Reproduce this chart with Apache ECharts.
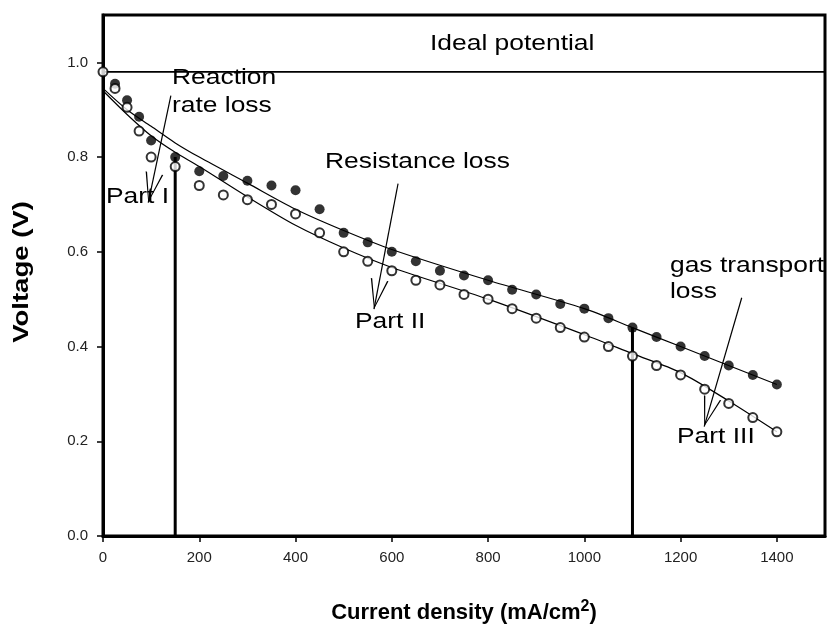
<!DOCTYPE html>
<html>
<head>
<meta charset="utf-8">
<script src="https://cdn.jsdelivr.net/npm/echarts@6/dist/echarts.min.js"></script>
<style>html,body{margin:0;padding:0;background:#fff}#c{width:827px;height:635px}</style>
</head>
<body>
<div id="c"></div>
<script>
// ---- data ----
var upperX = [25, 50, 75, 100, 150, 200, 250, 300, 350, 400, 450, 500, 550, 600, 650, 700, 750, 800, 850, 900, 950, 1000, 1050, 1100, 1150, 1200, 1250, 1300, 1350, 1400];
var upperV = [0.955, 0.92, 0.885, 0.835, 0.80, 0.77, 0.76, 0.75, 0.74, 0.73, 0.69, 0.64, 0.62, 0.60, 0.58, 0.56, 0.55, 0.54, 0.52, 0.51, 0.49, 0.48, 0.46, 0.44, 0.42, 0.40, 0.38, 0.36, 0.34, 0.32];
var lowerX = [0, 25, 50, 75, 100, 150, 200, 250, 300, 350, 400, 450, 500, 550, 600, 650, 700, 750, 800, 850, 900, 950, 1000, 1050, 1100, 1150, 1200, 1250, 1300, 1350, 1400];
var lowerV = [0.98, 0.945, 0.905, 0.855, 0.80, 0.78, 0.74, 0.72, 0.71, 0.70, 0.68, 0.64, 0.60, 0.58, 0.56, 0.54, 0.53, 0.51, 0.50, 0.48, 0.46, 0.44, 0.42, 0.40, 0.38, 0.36, 0.34, 0.31, 0.28, 0.25, 0.22];
var upperFitX = [0, 50, 100, 150, 200, 300, 400, 500, 600, 800, 1000, 1100, 1200, 1400];
var upperFitV = [0.945, 0.90, 0.865, 0.83, 0.80, 0.745, 0.69, 0.645, 0.605, 0.54, 0.48, 0.44, 0.40, 0.32];
var lowerFitX = [0, 50, 100, 150, 200, 300, 400, 500, 600, 800, 1000, 1100, 1200, 1300, 1400];
var lowerFitV = [0.94, 0.89, 0.845, 0.81, 0.78, 0.716, 0.656, 0.608, 0.567, 0.50, 0.425, 0.385, 0.345, 0.285, 0.22];
var idealPotential = 0.98;
var partLineX = [150, 1100];
var partLineTop = [0.80, 0.44];
// annotation arrows: from (text) to (part label)
var arrowFrom = [[141, 0.93], [613, 0.744], [1327, 0.503]];
var arrowTo = [[94, 0.704], [563, 0.479], [1249, 0.231]];
var xTicks = [0, 200, 400, 600, 800, 1000, 1200, 1400];
var yTicks = [0.0, 0.2, 0.4, 0.6, 0.8, 1.0];

function pairs(xs, ys) { return xs.map(function (x, i) { return [x, ys[i]]; }); }

var chart = echarts.init(document.getElementById('c'), null, { renderer: 'canvas' });
var FONT = 'Liberation Sans, Arial, sans-serif';

var series = [
  {
    type: 'line', data: pairs(upperFitX, upperFitV), smooth: 0.3, symbol: 'none',
    lineStyle: { color: '#000', width: 1.2 }, z: 2, silent: true
  },
  {
    type: 'line', data: pairs(lowerFitX, lowerFitV), smooth: 0.3, symbol: 'none',
    lineStyle: { color: '#000', width: 1.2 }, z: 2, silent: true
  },
  {
    type: 'line', data: [[0, idealPotential], [1500, idealPotential]], symbol: 'none',
    lineStyle: { color: '#000', width: 1.6 }, z: 2, silent: true
  }
];
partLineX.forEach(function (x, i) {
  series.push({
    type: 'line', data: [[x, 0], [x, partLineTop[i]]], symbol: 'none',
    lineStyle: { color: '#000', width: 3 }, z: 3, silent: true
  });
});
series.push({
  type: 'scatter', data: pairs(upperX, upperV), symbol: 'circle', symbolSize: 10,
  itemStyle: { color: '#000' }, z: 5
});
series.push({
  type: 'scatter', data: pairs(lowerX, lowerV), symbol: 'circle', symbolSize: 9,
  itemStyle: { color: '#fff', borderColor: '#000', borderWidth: 2 }, z: 5
});
series.push({
  type: 'line', data: [], symbol: 'none', silent: true,
  markLine: {
    silent: true, animation: false,
    // open V head; an invisible point ahead of the tip keeps the tip at the symbol centre
    symbol: ['none', 'path://M10,-30 L10.01,-30 L10,-29.99 Z M0,30 L10,0 L20,30 L18.4,30 L10,3.5 L1.6,30 Z'],
    symbolSize: [18, 60],
    lineStyle: { color: '#000', width: 1.2, type: 'solid' },
    label: { show: false },
    data: arrowFrom.map(function (f, i) { return [{ coord: f }, { coord: arrowTo[i] }]; })
  }
});

function txt(s, x, y) {
  return {
    type: 'text', x: x, y: y, scaleX: 1.2, scaleY: 1,
    style: { text: s, x: 0, y: 0, fill: '#000', font: '22px ' + FONT, textAlign: 'left', textVerticalAlign: 'middle' }
  };
}

chart.setOption({
  animation: false,
  backgroundColor: '#fff',
  grid: { left: 103, right: 2, top: 15, bottom: 99, show: true, borderColor: '#000', borderWidth: 3, containLabel: false },
  xAxis: {
    type: 'value', min: 0, max: 1500, interval: 200,
    name: 'Current density (mA/cm{sup|2})', nameLocation: 'middle', nameGap: 63,
    nameTextStyle: {
      fontFamily: FONT, fontWeight: 'bold', fontSize: 22, color: '#000',
      rich: { sup: { fontFamily: FONT, fontWeight: 'bold', fontSize: 16, color: '#000', verticalAlign: 'top', padding: [0, 0, 12, 0] } }
    },
    axisLine: { lineStyle: { color: '#000', width: 3 } },
    axisTick: { show: true, inside: false, length: 6, lineStyle: { color: '#000', width: 1.5 } },
    axisLabel: {
      fontFamily: FONT, fontSize: 15, color: '#222', margin: 14, showMaxLabel: false,
      formatter: function (v) { return xTicks.indexOf(v) >= 0 ? String(v) : ''; }
    },
    splitLine: { show: false }
  },
  yAxis: {
    type: 'value', min: 0, max: 1.1, interval: 0.2,
    axisLine: { lineStyle: { color: '#000', width: 3 } },
    axisTick: { show: true, inside: false, length: 6, lineStyle: { color: '#000', width: 1.5 } },
    axisLabel: {
      fontFamily: FONT, fontSize: 15, color: '#222', margin: 15, showMaxLabel: false,
      formatter: function (v) {
        var ok = yTicks.some(function (t) { return Math.abs(t - v) < 1e-6; });
        return ok ? v.toFixed(1) : '';
      }
    },
    splitLine: { show: false }
  },
  graphic: [
    txt('Ideal potential', 430, 44),
    txt('Reaction', 172, 78),
    txt('rate loss', 172, 106),
    txt('Part I', 106, 197),
    txt('Resistance loss', 325, 162),
    txt('Part II', 355, 322),
    txt('gas transport', 670, 266),
    txt('loss', 670, 292),
    txt('Part III', 677, 437),
    {
      type: 'text', x: 22, y: 272, rotation: Math.PI / 2, scaleX: 1.25, scaleY: 1,
      style: { text: 'Voltage (V)', x: 0, y: 0, fill: '#000', font: 'bold 22px ' + FONT, textAlign: 'center', textVerticalAlign: 'middle' }
    }
  ],
  series: series
});
</script>
</body>
</html>
